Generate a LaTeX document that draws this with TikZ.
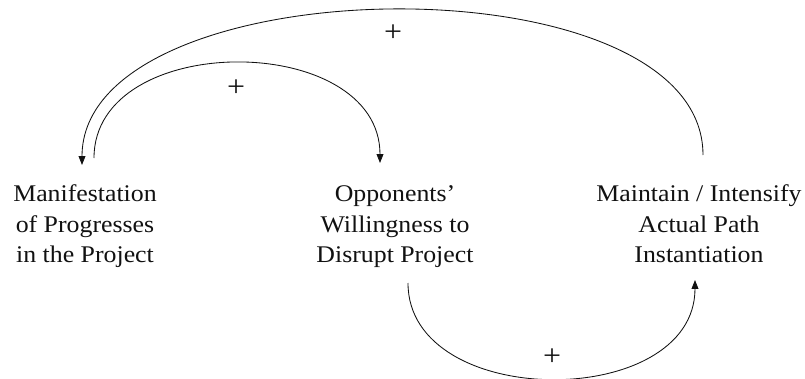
\documentclass[tikz,border=0pt]{standalone}
\usepackage{fontspec}
\setmainfont{Liberation Serif}[FakeStretch=1.08]
\usepackage{tikz}
\usetikzlibrary{positioning, arrows.meta, calc}
\definecolor{lInk}{HTML}{111111}
\tikzset{
  varnode/.style={anchor=north, inner sep=0pt, align=center, text=lInk,
    font=\fontsize{17}{21.4}\selectfont},
  linkarrow/.style={-{Triangle[length=2.2mm, width=1.7mm]}, line width=0.6pt, draw=lInk},
  polarity/.style={inner sep=0pt, text=lInk, font=\fontsize{21}{24}\selectfont},
}

\begin{document}
\begin{tikzpicture}[x=0.025cm, y=0.025cm]
  \useasboundingbox (0,0) rectangle (805,378);
  % the three variables of the loop
  \node[varnode] (prog) at (85,197.4) {\strut Manifestation\\of Progresses\\in the Project};
  \node[varnode] (opp) at (395,197.4) {\strut Opponents’\\Willingness to\\Disrupt Project};
  \node[varnode] (path) at (699,197.4) {\strut Maintain / Intensify\\Actual Path\\Instantiation};
  % end points of the links
  \coordinate (pathTop) at ($(path.north)+(4,25.6)$);
  \coordinate (progIn) at ($(prog.north)+(-3,15.6)$);
  \coordinate (progOut) at ($(prog.north)+(9,22.6)$);
  \coordinate (oppIn) at ($(opp.north)+(-15,17.6)$);
  \coordinate (oppOut) at ($(opp.north)+(13,-102.4)$);
  \coordinate (pathIn) at ($(path.north)+(-4,-99.4)$);
  % links
  \draw[linkarrow] (pathTop) .. controls ($(pathTop)+(0,200)$) and ($(progIn)+(0,200)$) .. (progIn);
  \draw[linkarrow] (progOut) .. controls ($(progOut)+(0,128)$) and ($(oppIn)+(0,132)$) .. (oppIn);
  \draw[linkarrow] (oppOut) .. controls ($(oppOut)+(0,-128)$) and ($(pathIn)+(0,-131)$) .. (pathIn);
  % link polarities
  \node[polarity] (s1) at (393,345) {+};
  \node[polarity] (s2) at (236,290) {+};
  \node[polarity] (s3) at (552,21) {+};
\end{tikzpicture}
\end{document}
